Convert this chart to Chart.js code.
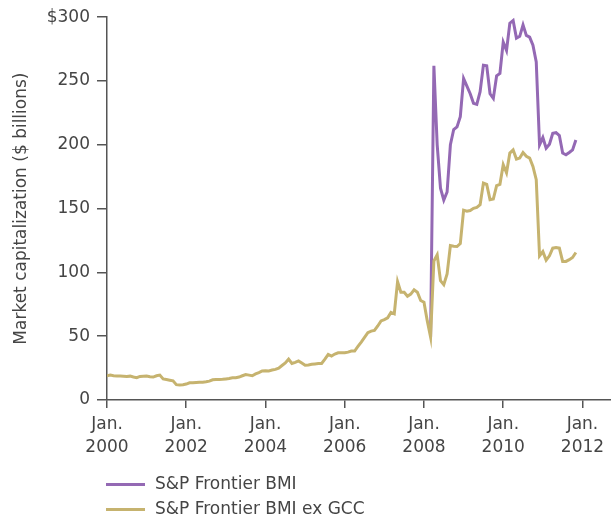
<!DOCTYPE html>
<html>
<head>
<meta charset="utf-8">
<script src="https://cdn.jsdelivr.net/npm/chart.js@4/dist/chart.umd.min.js"></script>
<style>
  html, body { margin: 0; padding: 0; background: #fff; }
  #wrap { position: relative; width: 611px; height: 517px; }
  #legend { position: absolute; left: 106px; top: 471px; font-family: "DejaVu Sans", sans-serif; font-size: 17px; color: #454545; }
  .item { position: relative; height: 25px; line-height: 25px; padding-left: 49px; white-space: nowrap; }
  .swatch { position: absolute; left: 0; top: 12px; width: 39px; height: 3px; }
</style>
</head>
<body>
<div id="wrap">
  <canvas id="c" width="611" height="517"></canvas>
  <div id="legend"></div>
</div>
<script>
// Monthly values, Jan 2000 .. Nov 2011 ($ billions)
const startYear = 2000;
const seriesNames = ['S&P Frontier BMI', 'S&P Frontier BMI ex GCC'];
const exGCC = [
  19, 19.5, 19, 18.8, 18.8, 18.7, 18.5, 18.7, 18, 17.5, 18.5, 18.7,
  18.8, 18.2, 18, 19, 19.5, 16.5, 16, 15.5, 15, 12, 11.7, 12,
  12.5, 13.5, 13.5, 13.8, 14, 14, 14.3, 14.8, 15.8, 16, 16, 16.2,
  16.5, 16.8, 17.4, 17.5, 18, 19, 20, 19.5, 19, 20.5, 21.5, 22.8,
  23, 22.8, 23.5, 24, 25, 27, 29, 32, 28.6, 29.5, 30.6, 29,
  27.3, 27.5, 28, 28.3, 28.6, 28.6, 32, 35.8, 34.5, 36, 37, 37,
  37, 37.5, 38.4, 38.4, 42, 45.4, 49, 52.7, 54, 54.5, 58, 62,
  63, 64.4, 68.6, 67.5, 92.7, 84.4, 84.4, 81.3, 83, 86.3, 84.4, 78,
  76.6, 62, 49.3, 109, 113.8, 93.5, 90.4, 98.7, 121, 120.5, 120.3, 122.6,
  148.8, 148, 148.5, 150.2, 151, 153, 170, 169, 157, 157.5, 168, 169,
  184.4, 178, 193.5, 196, 188.8, 189.6, 194, 191, 189.6, 183, 172.7, 113,
  116.3, 109.6, 113, 119, 119.5, 119, 108.6, 108.6, 110, 111.7, 115.6
];
// Full BMI diverges from Mar 2008 (month index 98); earlier it equals ex GCC
const bmiStartIndex = 98;
const bmi = [
  49.3, 262, 200, 166, 156.6, 163, 200, 212, 214, 222,
  252, 246, 240, 232.5, 231.7, 241.6, 262.4, 262, 240, 236.4, 254, 256,
  280.5, 274, 295.3, 297.4, 283.6, 285, 294, 285.7, 284.4, 278, 265, 200,
  205.7, 197.4, 200.5, 209, 209.5, 207.3, 193.5, 192.2, 194, 196, 203.8
];
const xTickYears = [2000, 2002, 2004, 2006, 2008, 2010, 2012];
const yTicks = [0, 50, 100, 150, 200, 250, 300];
const colors = ['#9469b4', '#c6b36f'];

const goldPts = exGCC.map((v, i) => ({ x: startYear + i / 12, y: v }));
const purplePts = bmi.map((v, i) => ({ x: startYear + (bmiStartIndex + i) / 12, y: v }));

const axisColor = '#555';
const textColor = '#454545';
const font = { family: 'DejaVu Sans', size: 17 };

new Chart(document.getElementById('c'), {
  type: 'line',
  data: {
    datasets: [
      { label: seriesNames[1], data: goldPts, borderColor: colors[1], borderWidth: 3, pointRadius: 0, tension: 0, fill: false },
      { label: seriesNames[0], data: purplePts, borderColor: colors[0], borderWidth: 3, pointRadius: 0, tension: 0, fill: false }
    ]
  },
  options: {
    responsive: false,
    animation: false,
    layout: { padding: { top: 15, right: 0, left: 0, bottom: 0 } },
    plugins: { legend: { display: false }, tooltip: { enabled: false } },
    scales: {
      x: {
        type: 'linear',
        min: 2000,
        max: 2012.72,
        afterBuildTicks: s => { s.ticks = xTickYears.map(v => ({ value: v })); },
        afterFit: s => { s.height = 117; },
        grid: { drawOnChartArea: false, drawTicks: true, tickLength: 8, color: axisColor, lineWidth: 1.5 },
        border: { display: true, color: axisColor, width: 1.5 },
        ticks: {
          color: textColor,
          font: { family: 'DejaVu Sans', size: 17, lineHeight: 1.3 },
          padding: 6,
          maxRotation: 0,
          autoSkip: false,
          callback: v => ['Jan.', String(v)]
        }
      },
      y: {
        min: 0,
        max: 300,
        afterBuildTicks: s => { s.ticks = yTicks.map(v => ({ value: v })); },
        afterFit: s => { s.width = 107; },
        grid: { drawOnChartArea: false, drawTicks: true, tickLength: 10, color: axisColor, lineWidth: 1.5 },
        border: { display: true, color: axisColor, width: 1.5 },
        ticks: {
          color: textColor,
          font: font,
          padding: 7,
          callback: v => (v === 300 ? '$300' : String(v))
        },
        title: {
          display: true,
          text: 'Market capitalization ($ billions)',
          color: textColor,
          font: font,
          padding: { top: 11, bottom: 0 }
        }
      }
    }
  }
});

const legend = document.getElementById('legend');
seriesNames.forEach((name, i) => {
  const d = document.createElement('div');
  d.className = 'item';
  const sw = document.createElement('span');
  sw.className = 'swatch';
  sw.style.background = colors[i];
  d.appendChild(sw);
  d.appendChild(document.createTextNode(name));
  legend.appendChild(d);
});
</script>
</body>
</html>
